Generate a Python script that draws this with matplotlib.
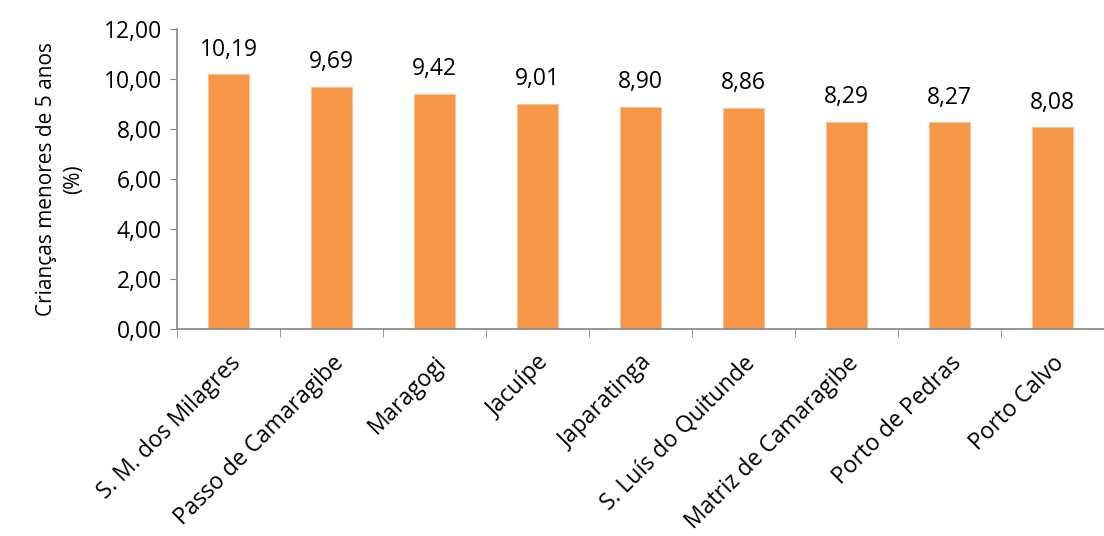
import matplotlib
matplotlib.use("Agg")
import matplotlib.pyplot as plt
from matplotlib.ticker import FuncFormatter, MultipleLocator

municipios = ["S. M. dos Milagres", "Passo de Camaragibe", "Maragogi", "Jacuípe",
              "Japaratinga", "S. Luís do Quitunde", "Matriz de Camaragibe",
              "Porto de Pedras", "Porto Calvo"]
valores = [10.19, 9.69, 9.42, 9.01, 8.90, 8.86, 8.29, 8.27, 8.08]

plt.rcParams["font.family"] = ["Open Sans", "DejaVu Sans"]
AXIS = "#868686"

fig = plt.figure(figsize=(11.04, 5.36), dpi=100)
ax = fig.add_axes([177 / 1104, 1 - 329 / 536, 1 - 177 / 1104, 300 / 536])

x = range(len(municipios))
ax.bar(x, valores, width=0.4, color="#F79646", edgecolor="#FAC090", linewidth=0.6, zorder=2)

for i, v in zip(x, valores):
    ax.text(i, v + 0.5, f"{v:.2f}".replace(".", ","), ha="center", va="bottom",
            fontsize=16.5, color="black")

ax.set_ylim(0, 12)
ax.set_xlim(-0.5, -0.5 + 927 / 104.4)
ax.yaxis.set_major_locator(MultipleLocator(2))
ax.yaxis.set_major_formatter(FuncFormatter(lambda v, _: f"{v:.2f}".replace(".", ",")))

ax.set_xticks(list(x))
ax.set_xticklabels(municipios, rotation=45, ha="right", rotation_mode="anchor", fontsize=16.5)
ax.set_xticks([i - 0.5 for i in range(len(municipios) + 1)], minor=True)
ax.tick_params(axis="x", which="major", length=0, pad=16)
ax.tick_params(axis="x", which="minor", length=6, color=AXIS, direction="out")
ax.tick_params(axis="y", length=5, color=AXIS, labelsize=16.5, pad=6)

for s in ["top", "right"]:
    ax.spines[s].set_visible(False)
for s in ["left", "bottom"]:
    ax.spines[s].set_color(AXIS)
    ax.spines[s].set_linewidth(1.2)

ax.set_ylabel("Crianças menores de 5 anos\n(%)", fontsize=15, labelpad=14, linespacing=1.35)

fig.savefig("out.png", dpi=100)
